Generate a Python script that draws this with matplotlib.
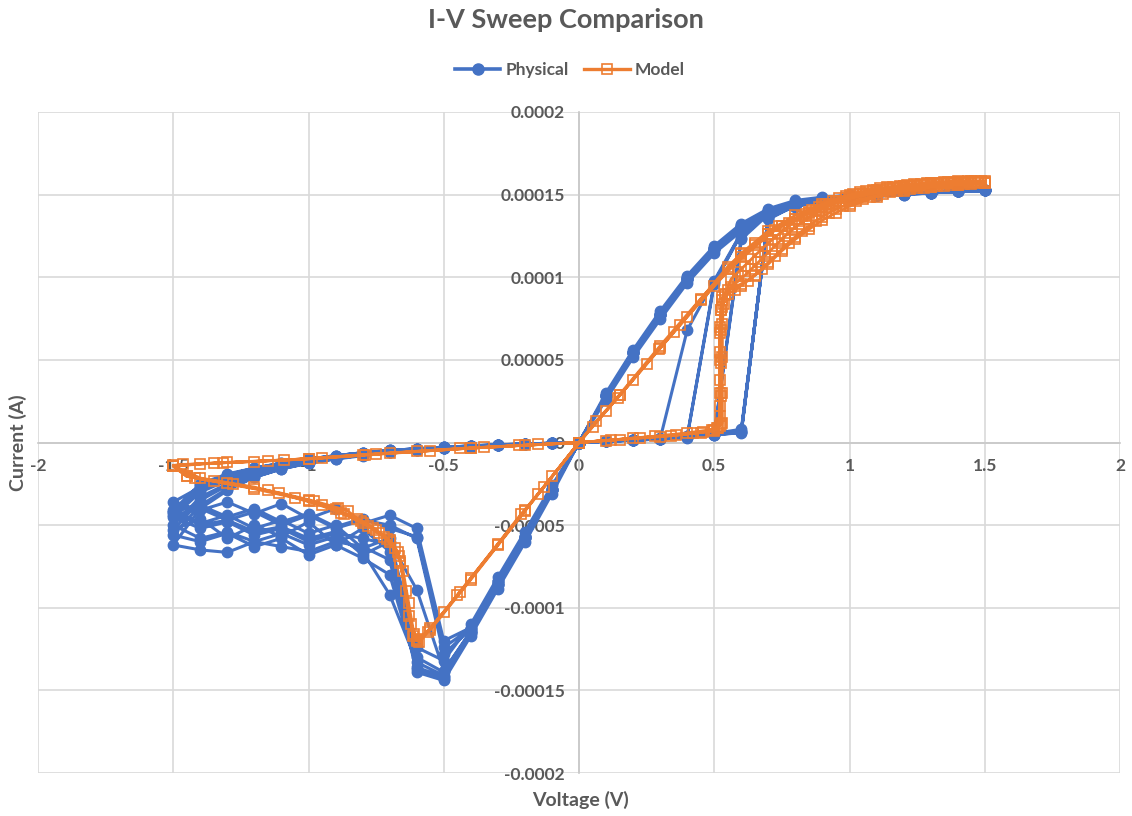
import matplotlib

matplotlib.use("Agg")
import matplotlib.pyplot as plt
from matplotlib.lines import Line2D

plt.rcParams["font.family"] = ["Lato", "DejaVu Sans"]

BLUE = "#4472C4"
ORANGE = "#ED7D31"
TEXT = "#595959"

# physical device: one sweep 0 -> 1.5 -> 0 -> -1.5 -> 0 (V)
phys_v = [0, 0.1, 0.2, 0.3, 0.4, 0.5, 0.6, 0.7, 0.8, 0.9, 1.0, 1.1, 1.2, 1.3, 1.4, 1.5,
          1.4, 1.3, 1.2, 1.1, 1.0, 0.9, 0.8, 0.7, 0.6, 0.5, 0.4, 0.3, 0.2, 0.1, 0,
          -0.1, -0.2, -0.3, -0.4, -0.5, -0.6, -0.7, -0.8, -0.9, -1.0, -1.1, -1.2, -1.3, -1.4, -1.5,
          -1.4, -1.3, -1.2, -1.1, -1.0, -0.9, -0.8, -0.7, -0.6, -0.5, -0.4, -0.3, -0.2, -0.1, 0]

# measured current per cycle (uA)
phys_cycle1 = [0, 0.8, 1.5, 2.2, 68, 98, 127, 139, 144, 147, 148.5, 149.5, 150.5, 151, 152, 152.5,
               152, 151, 150.5, 149.5, 149, 148, 145, 140, 131, 117, 99, 77, 54, 28, 0,
               -28, -57, -85, -114, -143, -137, -62, -58, -55, -60, -52, -56, -48, -52, -45,
               -30, -23, -18, -14.5, -11.5, -9, -7, -5.5, -4.2, -3.2, -2.4, -1.6, -1, -0.5, 0]
phys_cycle2 = [0, 0.8, 1.6, 2.4, 3.5, 97, 126, 138, 144, 147, 149, 150, 150.5, 151.5, 152, 153,
               152.5, 151.5, 150.5, 150, 149.5, 148.5, 146.5, 141.5, 132.5, 119, 101, 79.5, 56, 30, 0,
               -28.5, -57, -84, -113, -128, -58, -50, -47, -52, -44, -50, -42, -47, -40, -44,
               -28, -21, -17, -13.5, -10.5, -8.5, -6.5, -5, -4, -3, -2.2, -1.5, -1, -0.5, 0]
phys_cycle3 = [0, 0.7, 1.4, 2.1, 3, 4.5, 6, 137, 143, 146.5, 148.5, 149.5, 150.5, 151, 152, 152.5,
               152, 151, 150, 149.5, 148.5, 147, 144, 139, 130.5, 117.5, 99.5, 78, 55, 28.5, 0,
               -29, -58, -86, -115, -141, -133, -92, -66, -57, -62, -55, -60, -54, -58, -50,
               -33, -25, -19, -15, -12, -9.5, -7.5, -6, -4.5, -3.5, -2.5, -1.7, -1.1, -0.5, 0]
phys_cycle4 = [0, 0.9, 1.7, 2.5, 3.8, 5.5, 8, 135, 143.5, 147, 149, 150, 151, 151.5, 152.5, 153,
               152.5, 151.5, 151, 150, 149.5, 148, 145.5, 140.5, 131.5, 118, 100, 77.5, 54.5, 28, 0,
               -31, -60.5, -88.5, -117, -144, -139, -71, -63, -60, -66, -63, -60, -66.5, -65, -62,
               -40, -29, -21, -16, -12.5, -10, -8, -6, -4.6, -3.5, -2.6, -1.8, -1.1, -0.5, 0]
phys_cycle5 = [0, 0.8, 1.5, 2.3, 3.3, 5, 124, 138.5, 144, 147, 149, 150, 150.5, 151.5, 152, 152.5,
               152, 151.5, 150.5, 150, 148.5, 146.5, 142.5, 137.5, 128, 114.5, 96.5, 74.5, 51.5, 26, 0,
               -28, -56.5, -84, -112, -120, -52, -44, -49, -40, -46, -37, -43, -36, -41, -36,
               -27, -20, -16, -13, -10, -8, -6.2, -4.8, -3.8, -2.9, -2.1, -1.4, -0.9, -0.4, 0]
phys_cycle6 = [0, 0.7, 1.4, 2.2, 3.2, 4.8, 6.5, 136, 143, 146.5, 148.5, 150, 150.5, 151, 152, 152.5,
               152, 151, 150.5, 149.5, 148.5, 147, 144.5, 139, 130, 117, 99, 77, 54.5, 28.5, 0,
               -28.5, -57, -85.5, -114.5, -138, -89, -60, -68, -54, -58, -51, -54, -47, -50, -42,
               -29, -22, -17.5, -14, -11, -8.8, -6.8, -5.3, -4.1, -3.1, -2.3, -1.5, -1, -0.5, 0]
phys_cycle7 = [0, 0.8, 1.5, 2.3, 3.4, 5.2, 7, 136.5, 143.5, 146.5, 148.5, 149.5, 150.5, 151, 152, 152.5,
               152, 151, 150.5, 149.5, 148.5, 147, 144.5, 139.5, 130.5, 117, 99, 77, 54, 28, 0,
               -28.5, -57.5, -85.5, -114, -139, -130, -66, -52, -62, -48, -57, -50, -58, -46, -53,
               -35, -26, -20, -15.5, -12, -9.3, -7.2, -5.6, -4.3, -3.3, -2.4, -1.6, -1, -0.5, 0]
phys_cycle8 = [0, 0.8, 1.6, 2.4, 3.6, 96, 127, 138.5, 144, 147, 149, 150, 150.5, 151.5, 152, 153,
               152.5, 151.5, 150.5, 150, 149, 147.5, 145, 139.5, 130.5, 116.5, 98.5, 77, 54, 28, 0,
               -26, -54, -81.5, -110, -132, -124, -58, -64, -50, -55, -47, -52, -44, -49, -41,
               -25, -19, -15.5, -12.5, -10, -8, -6.2, -4.8, -3.8, -2.9, -2.1, -1.4, -0.9, -0.4, 0]
phys_cycle9 = [0, 0.7, 1.4, 2.1, 3.1, 4.6, 6.2, 137, 143, 146.5, 148.5, 149.5, 150.5, 151, 152, 152.5,
               152, 151, 150, 149.5, 148.5, 147, 144, 139, 130.5, 117.5, 99.5, 78, 55, 28.5, 0,
               -29, -58, -86.5, -115.5, -142, -136, -80, -70, -62, -68, -58, -63, -55, -60, -56,
               -38, -28, -21, -16, -12.5, -9.8, -7.6, -5.9, -4.5, -3.4, -2.5, -1.7, -1.1, -0.5, 0]
phys_cycle10 = [0, 0.8, 1.5, 2.2, 3.3, 5, 123, 138, 144, 147, 149, 150, 150.5, 151.5, 152, 152.5,
                152, 151.5, 150.5, 150, 149, 147.5, 145, 140, 130.5, 117, 99, 77, 54, 28, 0,
                -28, -56.5, -84, -112.5, -124, -57, -52, -46, -51, -43, -48, -40, -45, -38, -42,
                -26, -19.5, -15.5, -12.5, -10, -8, -6.2, -4.8, -3.8, -2.9, -2.1, -1.4, -0.9, -0.4, 0]
phys_cycles = [phys_cycle1, phys_cycle2, phys_cycle3, phys_cycle4, phys_cycle5,
               phys_cycle6, phys_cycle7, phys_cycle8, phys_cycle9, phys_cycle10]

# model: four simulated cycles (V, uA)
model_v_a = [0, 0.1, 0.225, 0.34, 0.45, 0.5, 0.515, 0.52, 0.52, 0.52, 0.52, 0.525, 0.53, 0.55,
             0.6, 0.65, 0.7, 0.75, 0.8, 0.85, 0.9, 0.95, 1.0, 1.1, 1.2, 1.3, 1.4, 1.5,
             1.4, 1.3, 1.2, 1.1, 1.0, 0.9, 0.74, 0.556, 0.373, 0.295, 0.143, 0.063, 0,
             -0.13, -0.215, -0.44, -0.59, -0.614, -0.664, -0.71, -0.738, -0.806, -0.855,
             -0.892, -0.978, -1.108, -1.28, -1.42, -1.5,
             -1.465, -1.317, -1.09, -0.79, -0.44, -0.22, 0]
model_i_a = [0, 1.2, 3, 4.2, 6, 7.5, 9, 16, 30, 50, 66, 80, 88, 92,
             96, 101, 108, 116, 123, 129, 134.5, 139, 143, 148.5, 152, 154.5, 156, 157,
             156.8, 155.8, 154, 151.5, 148, 142.5, 131, 105, 71.3, 56.6, 27, 12.9, 0,
             -27, -43.5, -90.6, -121, -117, -68.7, -58.6, -54.6, -47.5, -41.5,
             -39.5, -35.5, -30.4, -25.4, -21.4, -14,
             -13.3, -12.3, -10.7, -7.3, -3.6, -1.8, 0]

model_v_b = [0, 0.15, 0.3, 0.42, 0.5, 0.52, 0.52, 0.52, 0.52, 0.52, 0.525, 0.53,
             0.55, 0.575, 0.6, 0.625, 0.65, 0.675, 0.7, 0.725, 0.75, 0.775, 0.8, 0.825, 0.85,
             0.875, 0.9, 0.925, 0.95, 0.975, 1.0, 1.025, 1.05, 1.075, 1.1, 1.125, 1.15, 1.175,
             1.2, 1.225, 1.25, 1.275, 1.3, 1.325, 1.35, 1.375, 1.4, 1.425, 1.45, 1.475, 1.5,
             1.475, 1.45, 1.425, 1.4, 1.375, 1.35, 1.325, 1.3, 1.275, 1.25, 1.225, 1.2, 1.175,
             1.15, 1.125, 1.1, 1.075, 1.05, 1.025, 1.0, 0.975, 0.95, 0.925, 0.9, 0.875, 0.85,
             0.825, 0.8, 0.775, 0.75, 0.725, 0.7, 0.65, 0.6, 0.5, 0.4, 0.3, 0.2, 0.1, 0,
             -0.1, -0.2, -0.3, -0.4, -0.5, -0.56, -0.6, -0.62, -0.64, -0.66, -0.68, -0.72,
             -0.76, -0.82, -0.9, -1.0, -1.15, -1.3, -1.45, -1.5,
             -1.4, -1.2, -1.0, -0.8, -0.6, -0.4, -0.2, 0]
model_i_b = [0, 1.8, 3.5, 5.5, 7, 10, 22, 38, 55, 70, 80, 86,
             90, 92, 95, 98, 101.5, 105, 109, 113, 117, 121, 124.5, 128, 131,
             134, 136.5, 139, 141, 143, 144.5, 146, 147.5, 148.5, 149.5, 150.5, 151.3, 152,
             152.7, 153.3, 153.8, 154.3, 154.7, 155.1, 155.5, 155.8, 156.1, 156.4, 156.6, 156.8, 157,
             157.4, 157.3, 157.2, 157, 156.8, 156.5, 156.2, 155.8, 155.4, 155, 154.5, 154, 153.4,
             152.7, 152, 151.3, 150.4, 149.5, 148.5, 147.5, 146.2, 144.9, 143.5, 142, 140.4, 138.7,
             136.9, 135, 133, 130.8, 128.5, 126, 119.5, 112, 95, 76, 57, 38, 19, 0,
             -20.5, -41, -61.5, -82, -102.5, -114.5, -119.5, -110, -90, -73, -64, -57,
             -51.5, -46, -40.5, -35, -29, -24.5, -20.5, -14.5,
             -12.8, -11.5, -9.8, -7.5, -5.4, -3.4, -1.7, 0]

model_v_c = [0, 0.2, 0.36, 0.46, 0.51, 0.53, 0.53, 0.53, 0.53, 0.535, 0.54,
             0.5625, 0.5875, 0.6125, 0.6375, 0.6625, 0.6875, 0.7125, 0.7375, 0.7625, 0.7875,
             0.8125, 0.8375, 0.8625, 0.8875, 0.9125, 0.9375, 0.9625, 0.9875, 1.0125, 1.0375,
             1.0625, 1.0875, 1.1125, 1.1375, 1.1625, 1.1875, 1.2125, 1.2375, 1.2625, 1.2875,
             1.3125, 1.3375, 1.3625, 1.3875, 1.4125, 1.4375, 1.4625, 1.4875, 1.5,
             1.45, 1.4, 1.35, 1.3, 1.25, 1.2, 1.15, 1.1, 1.05, 1.0, 0.95, 0.9, 0.85, 0.8, 0.75,
             0.7, 0.65, 0.6, 0.55, 0.45, 0.35, 0.25, 0.15, 0.05, 0,
             -0.15, -0.3, -0.45, -0.55, -0.6, -0.61, -0.63, -0.65, -0.67, -0.7, -0.75, -0.8,
             -0.87, -0.95, -1.05, -1.2, -1.35, -1.45, -1.5,
             -1.35, -1.15, -0.95, -0.75, -0.55, -0.35, -0.15, 0]
model_i_c = [0, 2.5, 4.5, 6.5, 8.5, 12, 30, 52, 72, 84, 89,
             94, 97.5, 101, 105, 109, 113, 117, 121, 125, 128.5,
             132, 135, 137.8, 140.3, 142.5, 144.5, 146.2, 147.7, 149, 150.1,
             151.1, 152, 152.8, 153.5, 154.1, 154.6, 155.1, 155.5, 155.9, 156.2,
             156.5, 156.8, 157, 157.2, 157.4, 157.6, 157.7, 157.8, 157.9,
             158, 157.8, 157.4, 156.8, 156, 155, 153.8, 152.3, 150.5, 148.5, 146, 143, 139.5, 135.5, 131,
             126, 120.5, 114, 106.5, 86.5, 67, 47.5, 28.5, 9.5, 0,
             -31, -62, -92.5, -112.5, -120, -116, -97, -78, -66, -59, -53, -48.5,
             -43, -38, -33.5, -28, -23.5, -20.5, -13.8,
             -12.5, -11, -9.4, -7, -4.9, -2.9, -1.2, 0]

model_v_d = [0, 0.12, 0.28, 0.4, 0.49, 0.525, 0.525, 0.525, 0.525, 0.53, 0.54,
             0.5625, 0.5875, 0.6125, 0.6375, 0.6625, 0.6875, 0.7125, 0.7375, 0.7625, 0.7875,
             0.8125, 0.8375, 0.8625, 0.8875, 0.9125, 0.9375, 0.9625, 0.9875, 1.0125, 1.0375,
             1.0625, 1.0875, 1.1125, 1.1375, 1.1625, 1.1875, 1.2125, 1.2375, 1.2625, 1.2875,
             1.3125, 1.3375, 1.3625, 1.3875, 1.4125, 1.4375, 1.4625, 1.4875, 1.5,
             1.4, 1.3, 1.2, 1.1, 1.0, 0.9, 0.8, 0.7, 0.6, 0.45, 0.3, 0.15, 0,
             -0.2, -0.4, -0.55, -0.6, -0.63, -0.66, -0.7, -0.78, -0.88, -1.0, -1.2, -1.4, -1.5,
             -1.3, -1.0, -0.7, -0.4, 0]
model_i_d = [0, 1.5, 3.8, 5.8, 7.8, 11, 28, 48, 68, 82, 90,
             99, 103, 107, 111, 115, 119, 122.5, 126, 129.5, 132.5,
             135.5, 138, 140.5, 142.5, 144.5, 146.2, 147.8, 149.2, 150.4, 151.4,
             152.3, 153.1, 153.8, 154.4, 154.9, 155.4, 155.8, 156.2, 156.5, 156.8,
             157.1, 157.3, 157.5, 157.7, 157.9, 158, 158.1, 158.2, 158.3,
             158, 157, 155.5, 153, 149.5, 144.5, 137.5, 128, 114.5, 87, 58.5, 29, 0,
             -41.5, -83, -113.5, -119, -105, -72, -60, -50.5, -42.5, -35.5, -27, -21.5, -14.2,
             -12, -10, -6.6, -3.4, 0]

x_ticks = [-2, -1.5, -1, -0.5, 0, 0.5, 1, 1.5, 2]
x_labels = ["-2", "-1.5", "-1", "-0.5", "0", "0.5", "1", "1.5", "2"]
y_ticks = [-0.0002, -0.00015, -0.0001, -0.00005, 0, 0.00005, 0.0001, 0.00015, 0.0002]
y_labels = ["-0.0002", "-0.00015", "-0.0001", "-0.00005", "0",
            "0.00005", "0.0001", "0.00015", "0.0002"]

UA = 1e-6

phys_x = []
phys_y = []
for cyc in phys_cycles:
    phys_x += phys_v
    phys_y += [i * UA for i in cyc]

model_x = model_v_a + model_v_b + model_v_c + model_v_d
model_y = [i * UA for i in model_i_a + model_i_b + model_i_c + model_i_d]

W, H = 1132, 816
fig = plt.figure(figsize=(W / 100, H / 100), dpi=100)
ax = fig.add_axes([38 / W, 1 - 773 / H, (1120 - 38) / W, (773 - 112) / H])
ax.set_axisbelow(True)

ax.plot(phys_x, phys_y, color=BLUE, lw=2.2, marker="o", ms=7.5,
        markerfacecolor=BLUE, markeredgecolor=BLUE, zorder=3)
ax.plot(model_x, model_y, color=ORANGE, lw=2.0, marker="s", ms=7.5,
        markerfacecolor="none", markeredgecolor=ORANGE, markeredgewidth=1.2, zorder=4)

ax.set_xlim(-2, 2)
ax.set_ylim(-0.0002, 0.0002)
ax.set_xticks(x_ticks)
ax.set_xticklabels(x_labels)
ax.set_yticks(y_ticks)
ax.set_yticklabels(y_labels)
ax.grid(True, color="#D9D9D9", lw=1.2)
for s in ["top", "right"]:
    ax.spines[s].set_visible(False)
for s in ["left", "bottom"]:
    ax.spines[s].set_position("zero")
    ax.spines[s].set_color("#C8C8C8")
    ax.spines[s].set_linewidth(1.2)
    ax.spines[s].set_zorder(0.6)
ax.tick_params(length=0, labelsize=12.5, labelcolor=TEXT)
ax.tick_params(axis="x", pad=11)
ax.tick_params(axis="y", pad=10)
for lab in ax.get_xticklabels() + ax.get_yticklabels():
    lab.set_fontweight("bold")

fig.text(566 / W, 1 - 20 / H, "I-V Sweep Comparison", ha="center", va="center",
         fontsize=19.5, fontweight="bold", color=TEXT)
fig.text(18 / W, 1 - 443 / H, "Current (A)", ha="center", va="center", rotation=90,
         fontsize=14, fontweight="bold", color=TEXT)
fig.text(580 / W, 1 - 800 / H, "Voltage (V)", ha="center", va="center",
         fontsize=14, fontweight="bold", color=TEXT)

handles = [
    Line2D([], [], color=BLUE, lw=2.6, marker="o", ms=8),
    Line2D([], [], color=ORANGE, lw=2.4, marker="s", ms=7.5, markerfacecolor="none",
           markeredgewidth=1.2),
]
leg = fig.legend(handles, ["Physical", "Model"], loc="center", ncol=2,
                 bbox_to_anchor=(570 / W, 1 - 70 / H), frameon=False,
                 handlelength=2.6, columnspacing=0.9, handletextpad=0.3,
                 prop={"size": 12.5, "weight": "bold"})
for t in leg.get_texts():
    t.set_color(TEXT)

fig.savefig("out.png", dpi=100)
